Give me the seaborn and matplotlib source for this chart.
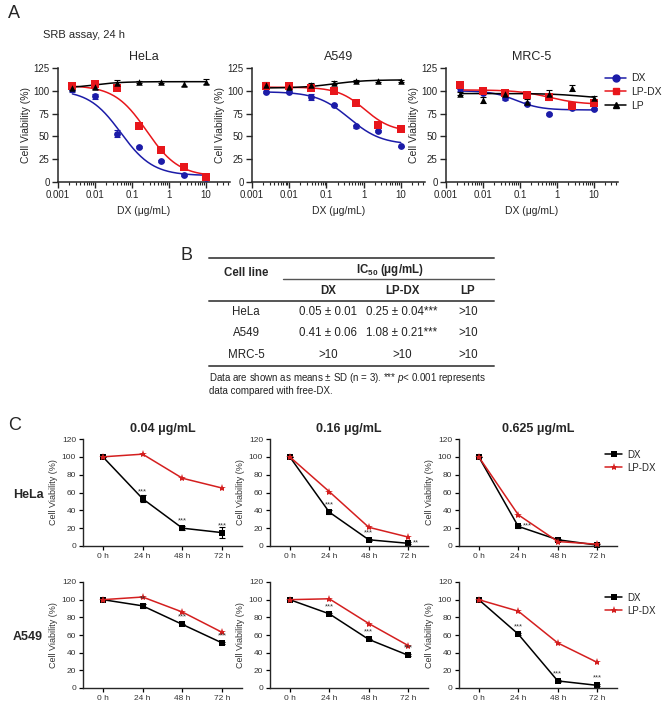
import numpy as np
import matplotlib
matplotlib.use("Agg")
import matplotlib.pyplot as plt
from matplotlib.lines import Line2D
from matplotlib.ticker import LogLocator, NullFormatter
import seaborn as sns

sns.set_style("ticks")
plt.rcParams['font.family'] = ['Liberation Sans', 'DejaVu Sans']
plt.rcParams['mathtext.fontset'] = 'custom'
plt.rcParams['mathtext.rm'] = 'Liberation Sans'
plt.rcParams['mathtext.it'] = 'Liberation Sans:italic'
plt.rcParams['mathtext.bf'] = 'Liberation Sans:bold'

# ---------------- A: SRB assay, 24 h ----------------
conc = [0.00244, 0.00977, 0.0391, 0.156, 0.625, 2.5, 10]

hela_dx = [102, 94, 53, 38, 23, 8, 4]
hela_lpdx = [105, 108, 103, 61, 35, 16, 6]
hela_lp = [103, 104, 109, 110, 110, 108, 110]
hela_dx_sd = [3, 3, 4, 1, 1, 1, 1]
hela_lpdx_sd = [3, 3, 2, 2, 2, 2, 2]
hela_lp_sd = [2, 2, 3, 1, 1, 3, 3]

a549_dx = [99, 99, 93, 84, 61, 56, 39]
a549_lpdx = [105, 105, 103, 100, 87, 62, 58]
a549_lp = [106, 104, 106, 109, 111, 111, 111]
a549_dx_sd = [1, 1, 3, 1, 2, 1, 1]
a549_lpdx_sd = [3, 2, 2, 1, 2, 2, 1]
a549_lp_sd = [4, 1, 3, 2, 1, 1, 1]

mrc5_dx = [103, 98, 92, 86, 75, 81, 80]
mrc5_lpdx = [106, 100, 98, 95, 93, 83, 87]
mrc5_lp = [97, 90, 96, 88, 97, 103, 92]
mrc5_dx_sd = [3, 2, 2, 2, 1, 1, 1]
mrc5_lpdx_sd = [3, 2, 1, 2, 3, 2, 2]
mrc5_lp_sd = [2, 3, 1, 3, 4, 3, 2]

# 4PL fit parameters: (top, bottom, IC50, hill)
hela_dx_fit = (101, 7, 0.05, 1.0)
hela_lpdx_fit = (106, 6, 0.25, 1.0)
hela_lp_fit = (103, 110, 0.01, 1.2)
a549_dx_fit = (99, 41, 0.41, 1.0)
a549_lpdx_fit = (104, 55, 1.08, 1.2)
a549_lp_fit = (103, 112, 0.15, 1.0)
mrc5_dx_fit = (100, 79, 0.08, 1.3)
mrc5_lpdx_fit = (101, 85, 0.6, 1.0)
mrc5_lp_fit = (97, 91, 5.0, 1.0)

# ---------------- B: IC50 table ----------------
table_cells = ["HeLa", "A549", "MRC-5"]
ic50_dx = ["0.05 ± 0.01", "0.41 ± 0.06", ">10"]
ic50_lpdx = ["0.25 ± 0.04***", "1.08 ± 0.21***", ">10"]
ic50_lp = [">10", ">10", ">10"]

# ---------------- C: time course ----------------
hours = [0, 24, 48, 72]
doses = ["0.04 μg/mL", "0.16 μg/mL", "0.625 μg/mL"]
rows = ["HeLa", "A549"]

hela_004_dx = [100, 53, 20, 15]
hela_004_lpdx = [100, 103, 76, 65]
hela_004_sd = [0, 4, 2, 6]
hela_004_stars = ["", "***", "***", "***"]
hela_016_dx = [100, 38, 7, 3]
hela_016_lpdx = [100, 61, 21, 10]
hela_016_sd = [0, 2, 1, 1]
hela_016_stars = ["", "***", "***", "**"]
hela_0625_dx = [100, 22, 7, 1]
hela_0625_lpdx = [100, 35, 5, 2]
hela_0625_sd = [0, 2, 1, 1]
hela_0625_stars = ["", "***", "", ""]

a549_004_dx = [100, 93, 72, 51]
a549_004_lpdx = [100, 103, 86, 63]
a549_004_sd = [0, 2, 1, 1]
a549_004_stars = ["", "**", "***", "***"]
a549_016_dx = [100, 84, 55, 37]
a549_016_lpdx = [100, 101, 73, 48]
a549_016_sd = [0, 1, 1, 1]
a549_016_stars = ["", "***", "***", "***"]
a549_0625_dx = [100, 61, 8, 3]
a549_0625_lpdx = [100, 87, 51, 29]
a549_0625_sd = [0, 1, 1, 1]
a549_0625_stars = ["", "***", "***", "***"]

BLUE = "#1c1ca8"
RED = "#e8161b"
CRED = "#d41f1f"

fig = plt.figure(figsize=(6.64, 7.04), dpi=100)
W, H = 664, 704


def px_axes(left, top, right, bottom):
    return fig.add_axes([left / W, 1 - bottom / H, (right - left) / W, (bottom - top) / H])


def fourpl(x, p):
    top, bottom, ic50, hill = p
    return bottom + (top - bottom) / (1 + (x / ic50) ** hill)


def dose_panel(ax, title, series):
    xs = np.logspace(np.log10(conc[0]), np.log10(conc[-1]), 200)
    for vals, sds, fit, col, mk, sz in series:
        sns.lineplot(x=xs, y=fourpl(xs, fit), color=col, lw=1.1, ax=ax, zorder=2)
        ax.errorbar(conc, vals, yerr=sds, fmt='none', ecolor=col, elinewidth=0.8,
                    capsize=2, capthick=0.8, zorder=2)
        sns.scatterplot(x=conc, y=vals, marker=mk, color=col, s=sz, linewidth=0,
                        ax=ax, zorder=3, clip_on=False)
    ax.set_xscale('log')
    ax.set_xlim(0.001, 45)
    ax.set_ylim(0, 125)
    ax.set_yticks([0, 25, 50, 75, 100, 125])
    ax.set_xticks([0.001, 0.01, 0.1, 1, 10])
    ax.set_xticklabels(['0.001', '0.01', '0.1', '1', '10'])
    ax.xaxis.set_minor_locator(LogLocator(base=10, subs=np.arange(2, 10)))
    ax.xaxis.set_minor_formatter(NullFormatter())
    ax.tick_params(axis='both', which='major', labelsize=7, length=4, width=1, pad=2)
    ax.tick_params(axis='x', which='minor', length=2, width=0.8)
    ax.set_xlabel("DX (μg/mL)", fontsize=7.5, labelpad=4)
    ax.set_ylabel("Cell Viability (%)", fontsize=7.5, labelpad=2)
    ax.set_title(title, fontsize=9, pad=6)
    for s in ['left', 'bottom']:
        ax.spines[s].set_linewidth(1.1)
    sns.despine(ax=ax)


a_boxes = [(58, 68, 230, 182), (252, 68, 425, 182), (446, 68, 618, 182)]
a_data = [
    ("HeLa", [(hela_dx, hela_dx_sd, hela_dx_fit), (hela_lpdx, hela_lpdx_sd, hela_lpdx_fit),
              (hela_lp, hela_lp_sd, hela_lp_fit)]),
    ("A549", [(a549_dx, a549_dx_sd, a549_dx_fit), (a549_lpdx, a549_lpdx_sd, a549_lpdx_fit),
              (a549_lp, a549_lp_sd, a549_lp_fit)]),
    ("MRC-5", [(mrc5_dx, mrc5_dx_sd, mrc5_dx_fit), (mrc5_lpdx, mrc5_lpdx_sd, mrc5_lpdx_fit),
               (mrc5_lp, mrc5_lp_sd, mrc5_lp_fit)]),
]
styles = [(BLUE, 'o', 24), (RED, 's', 26), ('black', '^', 22)]

axes_a = []
for box, (title, sets) in zip(a_boxes, a_data):
    ax = px_axes(*box)
    dose_panel(ax, title, [d + s for d, s in zip(sets, styles)])
    axes_a.append(ax)

handles = [Line2D([0], [0], color=c, marker=m, ms=5, lw=1.1) for c, m, _ in styles]
axes_a[2].legend(handles, ["DX", "LP-DX", "LP"], loc='upper left', frameon=False,
                 bbox_to_anchor=(596 / W, 1 - 64 / H), bbox_transform=fig.transFigure,
                 fontsize=7.5, handlelength=2.0, handletextpad=0.5, labelspacing=0.35)

# ---------------- overlay for text and table ----------------
ov = fig.add_axes([0, 0, 1, 1], zorder=-1)
ov.set_xlim(0, W)
ov.set_ylim(H, 0)
ov.axis('off')

ov.text(8, 14, "A", fontsize=13, va='center', ha='left')
ov.text(43, 35, "SRB assay, 24 h", fontsize=8, va='center', ha='left')
ov.text(181, 255, "B", fontsize=13, va='center', ha='left')
ov.text(8, 425, "C", fontsize=13, va='center', ha='left')

line_col = "#555555"
ov.plot([209, 494], [258, 258], color=line_col, lw=1.4)
ov.plot([283, 494], [279, 279], color=line_col, lw=1.0)
ov.plot([209, 494], [301, 301], color=line_col, lw=1.4)
ov.plot([209, 494], [366, 366], color=line_col, lw=1.4)
ov.text(246, 273, "Cell line", fontsize=8.3, fontweight='bold', ha='center', va='center')
ov.text(390, 270, r"IC$_\mathbf{50}$ (μg/mL)", fontsize=8.3, fontweight='bold', ha='center', va='center')
col_x = [328, 402, 468]
for x, h in zip(col_x, ["DX", "LP-DX", "LP"]):
    ov.text(x, 291, h, fontsize=8.3, fontweight='bold', ha='center', va='center')
for i, name in enumerate(table_cells):
    y = 312 + i * 21.5
    ov.text(246, y, name, fontsize=8.3, ha='center', va='center', color='#222222')
    for x, v in zip(col_x, [ic50_dx[i], ic50_lpdx[i], ic50_lp[i]]):
        ov.text(x, y, v, fontsize=8.3, ha='center', va='center', color='#222222')
ov.text(209, 378, r"Data are shown as means ± SD (n = 3). *** $p$< 0.001 represents",
        fontsize=7, ha='left', va='center', color='#222222')
ov.text(209, 391, "data compared with free-DX.", fontsize=7, ha='left', va='center', color='#222222')

# ---------------- C ----------------
c_cols = [(83, 242), (270, 428), (459, 617)]
c_rows = [(439, 546), (582, 688)]
c_data = [
    [(hela_004_dx, hela_004_lpdx, hela_004_sd, hela_004_stars),
     (hela_016_dx, hela_016_lpdx, hela_016_sd, hela_016_stars),
     (hela_0625_dx, hela_0625_lpdx, hela_0625_sd, hela_0625_stars)],
    [(a549_004_dx, a549_004_lpdx, a549_004_sd, a549_004_stars),
     (a549_016_dx, a549_016_lpdx, a549_016_sd, a549_016_stars),
     (a549_0625_dx, a549_0625_lpdx, a549_0625_sd, a549_0625_stars)],
]

for r, (top, bot) in enumerate(c_rows):
    for c, (left, right) in enumerate(c_cols):
        dx, lp, sd, stars = c_data[r][c]
        ax = px_axes(left, top, right, bot)
        sns.lineplot(x=hours, y=lp, color=CRED, marker='*', markersize=6,
                     markeredgewidth=0, lw=1.1, ax=ax, zorder=3, clip_on=False, label="LP-DX")
        ax.errorbar(hours, dx, yerr=sd, fmt='none', ecolor='black', elinewidth=0.8,
                    capsize=2, capthick=0.8, zorder=2)
        sns.lineplot(x=hours, y=dx, color='black', marker='s', markersize=4.3,
                     markeredgewidth=0, lw=1.1, ax=ax, zorder=2, clip_on=False, label="DX")
        for h, v, s in zip(hours, dx, stars):
            if not s:
                continue
            if (r == 0 and c == 1 and h == 72) or (r == 0 and c == 2 and h == 24):
                ax.text(h + 3, v + 1, s, fontsize=5.5, ha='left', va='center', color='#333333')
            else:
                ax.text(h, v + 4, s, fontsize=5.5, ha='center', va='bottom', color='#333333')
        ax.set_xlim(-12, 84)
        ax.set_ylim(0, 120)
        ax.set_xticks(hours)
        ax.set_xticklabels([f"{h} h" for h in hours])
        ax.set_yticks(range(0, 121, 20))
        ax.tick_params(axis='both', labelsize=6, length=3, width=0.9, pad=2, colors='#333333')
        ax.tick_params(axis='both', color='black')
        ax.set_ylabel("Cell Viability (%)", fontsize=6.5, color='#333333', labelpad=3)
        ax.set_xlabel("")
        for s in ['left', 'bottom']:
            ax.spines[s].set_linewidth(1.0)
        sns.despine(ax=ax)
        if r == 0:
            ax.set_title(doses[c], fontsize=9, fontweight='bold', pad=5)
        if c == 2:
            hs, ls = ax.get_legend_handles_labels()
            order = [ls.index("DX"), ls.index("LP-DX")]
            ax.legend([hs[i] for i in order], ["DX", "LP-DX"], loc='upper left', frameon=False,
                      bbox_to_anchor=(596 / W, 1 - (top + 2) / H), bbox_transform=fig.transFigure,
                      fontsize=7, handlelength=1.8, handletextpad=0.5, labelspacing=0.3)
        else:
            ax.get_legend().remove()

for r, name in enumerate(rows):
    top, bot = c_rows[r]
    ov.text(28, (top + bot) / 2 + 2, name, fontsize=9, fontweight='bold', ha='center', va='center')

fig.savefig("out.png", dpi=100)
